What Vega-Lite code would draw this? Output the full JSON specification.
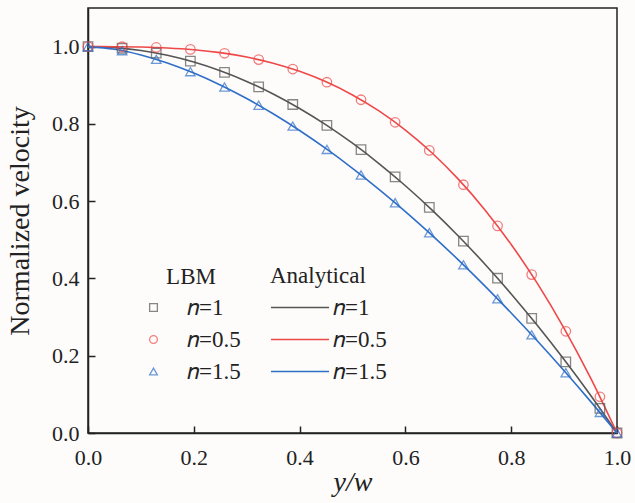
{
  "$schema": "https://vega.github.io/schema/vega-lite/v6.json",
  "autosize": "none",
  "width": 529,
  "height": 425,
  "padding": {"left": 88, "top": 8, "right": 18, "bottom": 70},
  "background": "#fdfcfb",
  "config": {
    "font": "Liberation Serif",
    "view": {"stroke": "#222222", "strokeWidth": 1.5},
    "axis": {"grid": false, "domainColor": "#222222", "domainWidth": 1.5, "tickColor": "#222222", "tickWidth": 1.5, "labelColor": "#222222", "titleFontWeight": "normal", "titleColor": "#222222", "labelFlush": false, "labelFont": "Liberation Serif", "titleFont": "Liberation Serif"},
    "legend": {"labelFont": "Liberation Serif", "titleFont": "Liberation Serif", "labelFontSize": 23, "titleFontSize": 23, "titleFontWeight": "normal", "labelColor": "#222222", "titleColor": "#222222", "padding": 0}
  },
  "datasets": {
    "lbm": [
      {"x": 0, "v": 1, "n": "𝑛=1"}, {"x": 0.0645, "v": 0.9958, "n": "𝑛=1"}, {"x": 0.129, "v": 0.9834, "n": "𝑛=1"}, {"x": 0.1935, "v": 0.9625, "n": "𝑛=1"}, {"x": 0.2581, "v": 0.9334, "n": "𝑛=1"}, {"x": 0.3226, "v": 0.8959, "n": "𝑛=1"}, {"x": 0.3871, "v": 0.8502, "n": "𝑛=1"}, {"x": 0.4516, "v": 0.7961, "n": "𝑛=1"}, {"x": 0.5161, "v": 0.7336, "n": "𝑛=1"}, {"x": 0.5806, "v": 0.6629, "n": "𝑛=1"}, {"x": 0.6452, "v": 0.5838, "n": "𝑛=1"}, {"x": 0.7097, "v": 0.4964, "n": "𝑛=1"}, {"x": 0.7742, "v": 0.4006, "n": "𝑛=1"}, {"x": 0.8387, "v": 0.2966, "n": "𝑛=1"}, {"x": 0.9032, "v": 0.1842, "n": "𝑛=1"}, {"x": 0.9677, "v": 0.0635, "n": "𝑛=1"}, {"x": 1, "v": 0, "n": "𝑛=1"},
      {"x": 0, "v": 1, "n": "𝑛=0.5"}, {"x": 0.0645, "v": 0.9997, "n": "𝑛=0.5"}, {"x": 0.129, "v": 0.9979, "n": "𝑛=0.5"}, {"x": 0.1935, "v": 0.9928, "n": "𝑛=0.5"}, {"x": 0.2581, "v": 0.9828, "n": "𝑛=0.5"}, {"x": 0.3226, "v": 0.9664, "n": "𝑛=0.5"}, {"x": 0.3871, "v": 0.942, "n": "𝑛=0.5"}, {"x": 0.4516, "v": 0.9079, "n": "𝑛=0.5"}, {"x": 0.5161, "v": 0.8625, "n": "𝑛=0.5"}, {"x": 0.5806, "v": 0.8042, "n": "𝑛=0.5"}, {"x": 0.6452, "v": 0.7315, "n": "𝑛=0.5"}, {"x": 0.7097, "v": 0.6426, "n": "𝑛=0.5"}, {"x": 0.7742, "v": 0.536, "n": "𝑛=0.5"}, {"x": 0.8387, "v": 0.41, "n": "𝑛=0.5"}, {"x": 0.9032, "v": 0.2632, "n": "𝑛=0.5"}, {"x": 0.9677, "v": 0.0937, "n": "𝑛=0.5"}, {"x": 1, "v": 0, "n": "𝑛=0.5"},
      {"x": 0, "v": 1, "n": "𝑛=1.5"}, {"x": 0.0645, "v": 0.9896, "n": "𝑛=1.5"}, {"x": 0.129, "v": 0.9671, "n": "𝑛=1.5"}, {"x": 0.1935, "v": 0.9353, "n": "𝑛=1.5"}, {"x": 0.2581, "v": 0.8954, "n": "𝑛=1.5"}, {"x": 0.3226, "v": 0.8483, "n": "𝑛=1.5"}, {"x": 0.3871, "v": 0.7944, "n": "𝑛=1.5"}, {"x": 0.4516, "v": 0.7341, "n": "𝑛=1.5"}, {"x": 0.5161, "v": 0.6679, "n": "𝑛=1.5"}, {"x": 0.5806, "v": 0.5959, "n": "𝑛=1.5"}, {"x": 0.6452, "v": 0.5183, "n": "𝑛=1.5"}, {"x": 0.7097, "v": 0.4353, "n": "𝑛=1.5"}, {"x": 0.7742, "v": 0.3472, "n": "𝑛=1.5"}, {"x": 0.8387, "v": 0.2541, "n": "𝑛=1.5"}, {"x": 0.9032, "v": 0.1561, "n": "𝑛=1.5"}, {"x": 0.9677, "v": 0.0533, "n": "𝑛=1.5"}, {"x": 1, "v": 0, "n": "𝑛=1.5"}
    ],
    "ana": [
      {"x": 0, "v": 1, "k": "1"}, {"x": 0.05, "v": 0.9975, "k": "1"}, {"x": 0.1, "v": 0.99, "k": "1"}, {"x": 0.15, "v": 0.9775, "k": "1"}, {"x": 0.2, "v": 0.96, "k": "1"}, {"x": 0.25, "v": 0.9375, "k": "1"}, {"x": 0.3, "v": 0.91, "k": "1"}, {"x": 0.35, "v": 0.8775, "k": "1"}, {"x": 0.4, "v": 0.84, "k": "1"}, {"x": 0.45, "v": 0.7975, "k": "1"}, {"x": 0.5, "v": 0.75, "k": "1"}, {"x": 0.55, "v": 0.6975, "k": "1"}, {"x": 0.6, "v": 0.64, "k": "1"}, {"x": 0.65, "v": 0.5775, "k": "1"}, {"x": 0.7, "v": 0.51, "k": "1"}, {"x": 0.75, "v": 0.4375, "k": "1"}, {"x": 0.8, "v": 0.36, "k": "1"}, {"x": 0.85, "v": 0.2775, "k": "1"}, {"x": 0.9, "v": 0.19, "k": "1"}, {"x": 0.95, "v": 0.0975, "k": "1"}, {"x": 1, "v": 0, "k": "1"},
      {"x": 0, "v": 1, "k": "0.5"}, {"x": 0.05, "v": 0.9999, "k": "0.5"}, {"x": 0.1, "v": 0.999, "k": "0.5"}, {"x": 0.15, "v": 0.9966, "k": "0.5"}, {"x": 0.2, "v": 0.992, "k": "0.5"}, {"x": 0.25, "v": 0.9844, "k": "0.5"}, {"x": 0.3, "v": 0.973, "k": "0.5"}, {"x": 0.35, "v": 0.9571, "k": "0.5"}, {"x": 0.4, "v": 0.936, "k": "0.5"}, {"x": 0.45, "v": 0.9089, "k": "0.5"}, {"x": 0.5, "v": 0.875, "k": "0.5"}, {"x": 0.55, "v": 0.8336, "k": "0.5"}, {"x": 0.6, "v": 0.784, "k": "0.5"}, {"x": 0.65, "v": 0.7254, "k": "0.5"}, {"x": 0.7, "v": 0.657, "k": "0.5"}, {"x": 0.75, "v": 0.5781, "k": "0.5"}, {"x": 0.8, "v": 0.488, "k": "0.5"}, {"x": 0.85, "v": 0.3859, "k": "0.5"}, {"x": 0.9, "v": 0.271, "k": "0.5"}, {"x": 0.95, "v": 0.1426, "k": "0.5"}, {"x": 1, "v": 0, "k": "0.5"},
      {"x": 0, "v": 1, "k": "1.5"}, {"x": 0.05, "v": 0.9932, "k": "1.5"}, {"x": 0.1, "v": 0.9785, "k": "1.5"}, {"x": 0.15, "v": 0.9577, "k": "1.5"}, {"x": 0.2, "v": 0.9316, "k": "1.5"}, {"x": 0.25, "v": 0.9008, "k": "1.5"}, {"x": 0.3, "v": 0.8656, "k": "1.5"}, {"x": 0.35, "v": 0.8262, "k": "1.5"}, {"x": 0.4, "v": 0.7829, "k": "1.5"}, {"x": 0.45, "v": 0.7358, "k": "1.5"}, {"x": 0.5, "v": 0.685, "k": "1.5"}, {"x": 0.55, "v": 0.6308, "k": "1.5"}, {"x": 0.6, "v": 0.5732, "k": "1.5"}, {"x": 0.65, "v": 0.5123, "k": "1.5"}, {"x": 0.7, "v": 0.4481, "k": "1.5"}, {"x": 0.75, "v": 0.3809, "k": "1.5"}, {"x": 0.8, "v": 0.3106, "k": "1.5"}, {"x": 0.85, "v": 0.2373, "k": "1.5"}, {"x": 0.9, "v": 0.1611, "k": "1.5"}, {"x": 0.95, "v": 0.0819, "k": "1.5"}, {"x": 1, "v": 0, "k": "1.5"}
    ]
  },
  "layer": [
    {
      "data": {"name": "ana"},
      "mark": {"type": "line", "interpolate": "monotone", "strokeWidth": 1.6},
      "encoding": {
        "x": {"field": "x", "type": "quantitative", "scale": {"domain": [0, 1], "nice": false}, "axis": {"orient": "bottom", "values": [0, 0.2, 0.4, 0.6, 0.8, 1.0], "format": ".1f", "title": "y/w", "titleFontStyle": "italic", "titlePadding": 0, "labelPadding": 14, "ticks": false, "tickSize": 0, "labelFontSize": 22, "titleFontSize": 28}},
        "y": {"field": "v", "type": "quantitative", "scale": {"domain": [0, 1.1], "nice": false}, "axis": {"orient": "left", "values": [0, 0.2, 0.4, 0.6, 0.8, 1.0], "format": ".1f", "title": "Normalized velocity", "titlePadding": 17, "labelPadding": 9, "ticks": false, "tickSize": 0, "labelFontSize": 22, "titleFontSize": 28}},
        "stroke": {"field": "k", "type": "nominal", "scale": {"domain": ["1", "0.5", "1.5"], "range": ["#555555", "#ee4848", "#2f6fc8"]},
          "legend": {"title": "Analytical", "labelExpr": "'𝑛=' + datum.label", "orient": "none", "legendX": 182, "legendY": 257, "symbolType": "M-1,0H3", "symbolSize": 841, "symbolStrokeWidth": 1.6, "titleAnchor": "start", "rowPadding": 4, "titlePadding": 4, "labelOffset": 32}}
      }
    },
    {
      "data": {"name": "lbm"},
      "mark": {"type": "point", "filled": false, "size": 90, "strokeWidth": 1.3},
      "encoding": {
        "x": {"field": "x", "type": "quantitative", "axis": {"orient": "bottom", "offset": -7, "values": [0, 0.2, 0.4, 0.6, 0.8, 1.0], "domain": false, "labels": false, "title": null, "ticks": true, "tickSize": 7}},
        "y": {"field": "v", "type": "quantitative", "axis": {"orient": "left", "offset": -7, "values": [0, 0.2, 0.4, 0.6, 0.8, 1.0], "domain": false, "labels": false, "title": null, "ticks": true, "tickSize": 7}},
        "color": {"field": "n", "type": "nominal", "scale": {"domain": ["𝑛=1", "𝑛=0.5", "𝑛=1.5"], "range": ["#555555", "#ee4848", "#2f6fc8"]},
          "legend": {"title": "LBM", "orient": "none", "legendX": 54, "legendY": 258, "titleAnchor": "middle", "rowPadding": 8, "titlePadding": 7, "labelOffset": 22, "symbolSize": 60, "symbolStrokeWidth": 1.3}},
        "shape": {"field": "n", "type": "nominal", "scale": {"domain": ["𝑛=1", "𝑛=0.5", "𝑛=1.5"], "range": ["square", "circle", "triangle-up"]},
          "legend": {"title": "LBM", "orient": "none", "legendX": 54, "legendY": 258, "titleAnchor": "middle", "rowPadding": 8, "titlePadding": 7, "labelOffset": 22, "symbolSize": 60, "symbolStrokeWidth": 1.3}}
      }
    }
  ],
  "resolve": {"axis": {"x": "independent", "y": "independent"}}
}
